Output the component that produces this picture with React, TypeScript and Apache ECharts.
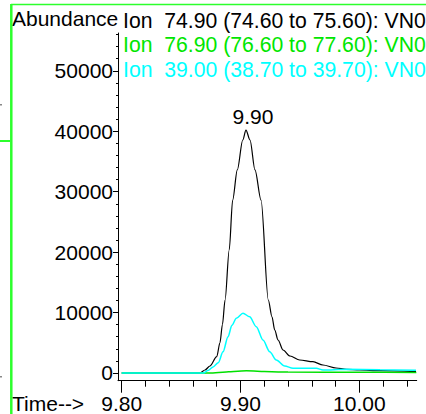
import React, { useEffect, useRef } from "react";
import * as echarts from "echarts";

const FONT = "'Liberation Sans', Arial, Helvetica, sans-serif";

// Axis ranges (minutes / abundance)
const X_MIN = 9.7969;
const X_MAX = 10.0483;
const Y_MIN = -1274;
const Y_MAX = 56254;

const X_MAJOR_TICKS = [9.8, 9.9, 10.0];
const X_MINOR_TICKS = [9.82, 9.84, 9.86, 9.88, 9.92, 9.94, 9.96, 9.98, 10.02, 10.04];
const Y_MAJOR_TICKS = [0, 10000, 20000, 30000, 40000, 50000];
const Y_MINOR_TICKS = [
  2000, 4000, 6000, 8000, 12000, 14000, 16000, 18000, 22000, 24000, 26000, 28000,
  32000, 34000, 36000, 38000, 42000, 44000, 46000, 48000, 52000, 54000, 56000,
];

// Ion 74.90 (black)
const TIME_74 = [
  9.8, 9.8659, 9.8701, 9.8743, 9.88, 9.8827, 9.8848, 9.887, 9.8905, 9.8934, 9.8973, 9.9019,
  9.9046, 9.908, 9.9122, 9.9173, 9.9234, 9.9265, 9.9288, 9.9316, 9.9358, 9.9417, 9.9498,
  9.961, 9.9694, 9.9804, 9.9891, 10.0003, 10.0172, 10.0477,
];
const ION_74 = [
  0, 0, 500, 1160, 2700, 5000, 8000, 12078, 20350, 28600, 33600, 38550,
  40200, 38550, 33600, 28600, 12078, 9300, 7115, 5460, 3805, 2810, 2150,
  1870, 1320, 830, 610, 500, 380, 215,
];

// Ion 76.90 (green)
const TIME_76 = [9.8, 9.875, 9.89, 9.905, 9.92, 9.94, 10.0, 10.048];
const ION_76 = [0, 0, 200, 380, 250, 150, 120, 80];

// Ion 39.00 (cyan)
const TIME_39 = [
  9.8, 9.8687, 9.8726, 9.8769, 9.8813, 9.8853, 9.8895, 9.8928, 9.8965, 9.9021, 9.9077,
  9.9133, 9.9189, 9.9246, 9.9301, 9.9372, 9.9442, 9.9638, 9.9694, 9.9888, 10.0174, 10.0477,
];
const ION_39 = [
  0, 0, 400, 1000, 1700, 3500, 6000, 7900, 9050, 9880, 9310,
  7660, 5460, 3520, 2150, 1160, 780, 780, 500, 600, 550, 450,
];

const PEAK_TIME = 9.9046;
const PEAK_VALUE = 40200;
const PEAK_LABEL = "9.90";

const TITLES = [
  "Ion  74.90 (74.60 to 75.60): VN0",
  "Ion  76.90 (76.60 to 77.60): VN0",
  "Ion  39.00 (38.70 to 39.70): VN0",
];
const TITLE_COLORS = ["#000000", "#00e600", "#00ffff"];
const SERIES_COLORS = ["#000000", "#00e000", "#00ffff"];

const zip = (t: number[], v: number[]) => t.map((x, i) => [x, v[i]]);

export default function App() {
  const ref = useRef<HTMLDivElement>(null);
  useEffect(() => {
    if (!ref.current) return;
    const chart = echarts.init(ref.current, null, { renderer: "svg" });
    const border = "#2cff2c";
    const option: any = {
      animation: false,
      backgroundColor: "#ffffff",
      grid: { left: 118, right: 9.3, top: 33, bottom: 33.3, containLabel: false, outerBoundsMode: "none" },
      xAxis: [
        {
          type: "value",
          min: X_MIN,
          max: X_MAX,
          position: "bottom",
          axisLine: { show: true, onZero: false, lineStyle: { color: "#000", width: 1 } },
          axisTick: { show: true, customValues: X_MAJOR_TICKS, length: 12, lineStyle: { color: "#000", width: 1 } },
          axisLabel: {
            customValues: X_MAJOR_TICKS,
            formatter: (v: number) => v.toFixed(2),
            fontSize: 21,
            fontFamily: FONT,
            color: "#000",
            margin: 12,
          },
          splitLine: { show: false },
        },
        {
          type: "value",
          min: X_MIN,
          max: X_MAX,
          position: "bottom",
          axisLine: { show: false, onZero: false },
          axisTick: { show: true, customValues: X_MINOR_TICKS, length: 6, lineStyle: { color: "#000", width: 1 } },
          axisLabel: { show: false },
          splitLine: { show: false },
        },
      ],
      yAxis: [
        {
          type: "value",
          min: Y_MIN,
          max: Y_MAX,
          position: "left",
          axisLine: { show: true, onZero: false, lineStyle: { color: "#000", width: 1 } },
          axisTick: { show: true, customValues: Y_MAJOR_TICKS, length: 5, lineStyle: { color: "#000", width: 1 } },
          axisLabel: {
            customValues: Y_MAJOR_TICKS,
            formatter: (v: number) => String(v),
            fontSize: 21,
            fontFamily: FONT,
            color: "#000",
            margin: 5,
          },
          splitLine: { show: false },
        },
        {
          type: "value",
          min: Y_MIN,
          max: Y_MAX,
          position: "left",
          axisLine: { show: false, onZero: false },
          axisTick: { show: true, customValues: Y_MINOR_TICKS, length: 2, lineStyle: { color: "#000", width: 1 } },
          axisLabel: { show: false },
          splitLine: { show: false },
        },
      ],
      series: [
        {
          type: "line",
          data: zip(TIME_74, ION_74),
          showSymbol: false,
          symbol: "none",
          silent: true,
          smooth: 0.3,
          smoothMonotone: "x",
          lineStyle: { color: SERIES_COLORS[0], width: 1.2 },
          markPoint: {
            symbol: "circle",
            symbolSize: 1,
            itemStyle: { color: "rgba(0,0,0,0)" },
            data: [{ coord: [PEAK_TIME, PEAK_VALUE] }],
            label: {
              show: true,
              position: "top",
              distance: 3,
              offset: [7, 0],
              formatter: PEAK_LABEL,
              fontSize: 21,
              fontFamily: FONT,
              color: "#000",
            },
          },
        },
        {
          type: "line",
          data: zip(TIME_76, ION_76),
          showSymbol: false,
          symbol: "none",
          silent: true,
          smooth: 0.3,
          lineStyle: { color: SERIES_COLORS[1], width: 1.5 },
        },
        {
          type: "line",
          data: zip(TIME_39, ION_39),
          showSymbol: false,
          symbol: "none",
          silent: true,
          smooth: 0.3,
          smoothMonotone: "x",
          lineStyle: { color: SERIES_COLORS[2], width: 1.5 },
        },
      ],
      graphic: [
        {
          type: "text",
          x: 12,
          y: 18,
          style: { text: "Abundance", fontSize: 21, fontFamily: FONT, fill: "#000", verticalAlign: "middle" },
        },
        ...TITLES.map((t, i) => ({
          type: "text",
          x: 123,
          y: [20.5, 44.5, 69][i],
          style: { text: t, fontSize: 21.2, fontFamily: FONT, fill: TITLE_COLORS[i], verticalAlign: "middle" },
        })),
        {
          type: "text",
          x: 12,
          y: 403,
          style: { text: "Time-->", fontSize: 21, fontFamily: FONT, fill: "#000", verticalAlign: "middle" },
        },
        { type: "line", shape: { x1: 11, y1: 4.5, x2: 426, y2: 4.5 }, style: { stroke: border, lineWidth: 1.5 } },
        { type: "line", shape: { x1: 11.3, y1: 4, x2: 11.3, y2: 414 }, style: { stroke: border, lineWidth: 2.5 } },
        { type: "line", shape: { x1: 0, y1: 141, x2: 10, y2: 141 }, style: { stroke: border, lineWidth: 2 } },
        { type: "rect", shape: { x: 0, y: 104, width: 2, height: 1.5 }, style: { fill: "#888" } },
        { type: "rect", shape: { x: 0, y: 376, width: 2, height: 1.5 }, style: { fill: "#888" } },
      ],
    };
    chart.setOption(option);
    return () => chart.dispose();
  }, []);
  return (
    <div
      ref={ref}
      style={{ position: "absolute", left: 0, top: 0, width: 426, height: 414, overflow: "hidden" }}
    />
  );
}
